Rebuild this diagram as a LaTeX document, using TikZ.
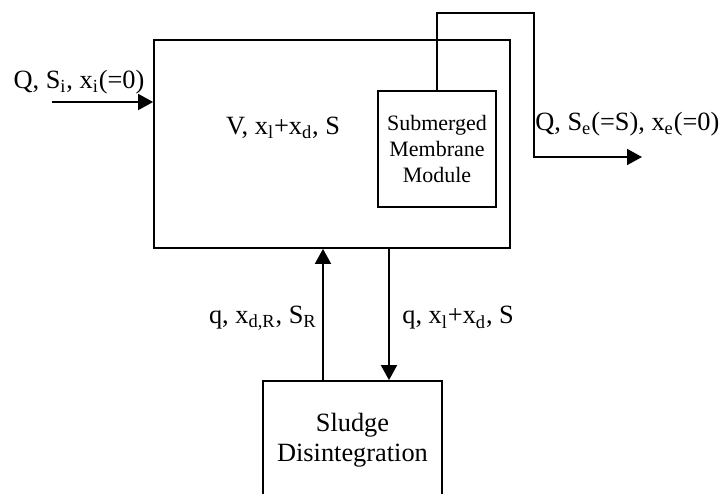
\documentclass[tikz,border=0pt]{standalone}
\usepackage{fontspec}
\setmainfont{Liberation Serif}
\usetikzlibrary{arrows.meta,positioning,calc}
\newcommand{\lo}[1]{\textsubscript{#1}}
\tikzset{
  block/.style={draw,line width=1pt,align=center,inner sep=0pt},
  flow/.style={-{Triangle[length=3mm,width=3.2mm]},line width=1pt},
  lbl/.style={inner sep=0pt,align=center}
}
\begin{document}
\begin{tikzpicture}[font=\fontsize{15}{17}\selectfont]
  \useasboundingbox (0,0) rectangle (14.42,9.86);
  \node[block,minimum width=7.12cm,minimum height=4.16cm] (reactor) at (6.64,6.98) {};
  \node[lbl] (state) at (5.66,7.3) {V, x\lo{l}+x\lo{d}, S};
  \node[block,minimum width=2.36cm,minimum height=2.32cm,font=\fontsize{12.5}{15}\selectfont] (membrane) at (8.74,6.88) {Submerged\\Membrane\\Module};
  \node[block,minimum width=3.58cm,minimum height=2.38cm] (sludge) at (7.05,1.05) {Sludge\\Disintegration};
  \coordinate (feed) at (1.04,7.82);
  \coordinate (bend) at (10.68,9.6);
  \coordinate (permeate) at (12.84,6.72);
  \draw[flow] (feed) -- (feed -| reactor.west);
  \node[lbl] (feedlbl) at (1.58,8.22) {Q, S\lo{i}, x\lo{i}(=0)};
  \draw[flow] (membrane.north) |- (bend) |- (permeate);
  \node[lbl,anchor=west] (permlbl) at (10.7,7.38) {Q, S\lo{e}(=S), x\lo{e}(=0)};
  \draw[flow] ([xshift=-0.59cm]sludge.north) -- ([xshift=-0.59cm]sludge.north |- reactor.south);
  \draw[flow] ([xshift=0.73cm]sludge.north |- reactor.south) -- ([xshift=0.73cm]sludge.north);
  \node[lbl,anchor=east] (backlbl) at (6.34,3.5) {q, x\lo{d,R}, S\lo{R}};
  \node[lbl,anchor=west] (drawlbl) at (8.04,3.5) {q, x\lo{l}+x\lo{d}, S};
\end{tikzpicture}
\end{document}
